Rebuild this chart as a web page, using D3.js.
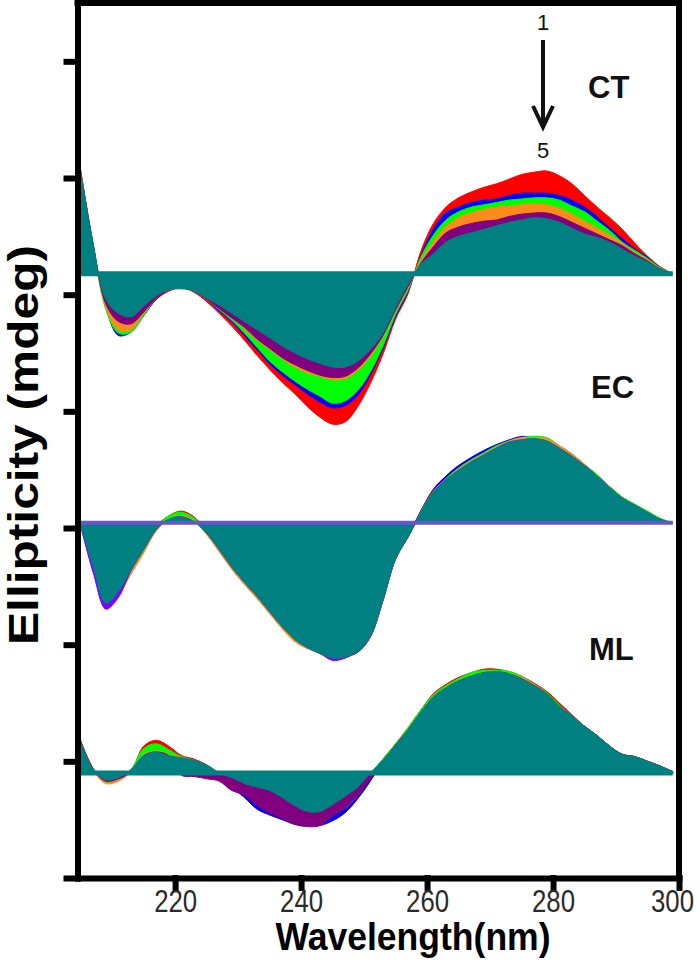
<!DOCTYPE html>
<html>
<head>
<meta charset="utf-8">
<script src="https://cdn.jsdelivr.net/npm/d3@7"></script>
<style>
  body { margin: 0; background: #fff; }
  svg { display: block; font-family: "Liberation Sans", Arial, sans-serif; }
</style>
</head>
<body>
<svg width="700" height="962"></svg>
<script>
// wavelength grid (nm)
var wavelength = [205,207,209,211,213,215,217,219,221,223,225,227,229,231,233,235,237,239,241,243,245,247,249,251,
                  253,255,257,259,261,263,265,267,269,271,273,275,277,279,281,283,285,287,289,291,293,295,297,299];

// CT spectra 1..5 (red, blue, green, orange, purple) and reference (teal), mdeg
var ctRed    = [8.9,2.3,-2.8,-5.0,-4.8,-3.6,-2.2,-1.5,-1.2,-1.6,-2.4,-3.4,-4.5,-5.7,-7.0,-8.2,-9.3,-10.3,-11.4,-12.3,-12.9,-12.7,-11.4,-9.4,
                -6.9,-3.9,-1.7,1.9,4.3,5.7,6.5,7.0,7.4,7.7,8.1,8.5,8.7,8.8,8.4,7.7,6.7,5.7,4.8,3.8,2.6,1.5,0.6,0];
var ctBlue   = [8.8,2.4,-2.9,-5.3,-5.0,-3.6,-2.2,-1.4,-1.0,-1.5,-2.2,-3.2,-4.1,-5.3,-6.5,-7.7,-8.7,-9.5,-10.3,-11.0,-11.5,-11.3,-10.4,-8.7,
                -6.4,-3.7,-1.5,1.5,3.8,5.2,5.7,6.1,6.3,6.4,6.7,6.9,6.9,6.9,6.7,6.3,5.7,4.9,3.9,3.0,2.1,1.4,0.5,0];
var ctGreen  = [8.8,2.4,-3.1,-5.1,-5.0,-3.6,-2.1,-1.4,-1.1,-1.5,-2.2,-3.1,-4.0,-5.1,-6.3,-7.5,-8.4,-9.2,-9.9,-10.5,-11.1,-10.9,-10.0,-8.4,
                -6.2,-3.5,-1.4,1.4,3.3,4.6,5.3,5.7,5.9,6.1,6.3,6.4,6.5,6.5,6.3,5.8,5.3,4.5,3.7,2.7,2.0,1.3,0.5,0];
var ctOrange = [8.8,2.4,-2.9,-4.8,-4.8,-3.4,-2.1,-1.4,-1.2,-1.5,-2.2,-3.0,-3.8,-4.7,-5.7,-6.5,-7.3,-8.0,-8.5,-8.8,-9.1,-9.0,-8.3,-7.1,
                -5.4,-3.2,-1.2,1.1,2.7,4.0,4.8,5.2,5.5,5.7,5.8,5.9,6.0,5.9,5.6,5.1,4.5,3.9,3.3,2.6,1.8,1.2,0.4,0];
var ctPurple = [8.7,2.5,-2.6,-4.1,-4.3,-3.3,-2.1,-1.4,-1.1,-1.5,-2.2,-3.0,-3.8,-4.6,-5.6,-6.4,-7.2,-7.8,-8.3,-8.7,-8.9,-8.8,-8.1,-6.9,
                -5.3,-3.1,-1.1,0.9,2.3,3.5,4.0,4.3,4.5,4.6,4.9,5.1,5.2,5.2,4.9,4.4,3.9,3.4,2.9,2.4,1.7,1.1,0.4,0];
var ctTeal   = [8.7,2.5,-2.2,-3.4,-3.7,-2.8,-1.9,-1.4,-1.3,-1.5,-2.1,-2.7,-3.4,-4.1,-4.8,-5.5,-6.2,-6.8,-7.3,-7.7,-8.0,-8.0,-7.5,-6.5,
                -5.1,-2.9,-0.9,0.8,1.7,2.7,3.2,3.5,3.8,4.1,4.4,4.6,4.8,4.7,4.4,3.9,3.4,3.1,2.7,2.1,1.5,1.0,0.4,0];

// EC
var ecRed    = [-0.2,-3.9,-7.0,-6.0,-4.0,-2.2,-0.3,0.6,1.0,0.5,-0.7,-2.3,-3.8,-5.1,-6.3,-7.6,-8.9,-10.0,-10.7,-11.2,-11.6,-11.5,-11.0,-9.7,
                -6.6,-3.1,-1.2,1.0,2.9,4.0,4.9,5.5,6.1,6.6,7.0,7.3,7.4,7.2,6.6,5.9,5.0,4.1,3.1,2.2,1.5,0.9,0.3,0];
var ecBlue   = [-0.2,-3.9,-7.0,-6.0,-4.1,-2.3,-0.5,0.5,0.8,0.3,-0.8,-2.3,-3.8,-5.2,-6.4,-7.7,-8.9,-10.0,-10.7,-11.2,-11.6,-11.5,-11.1,-9.8,
                -6.7,-3.1,-1.1,1.0,2.8,4.0,4.9,5.6,6.2,6.7,7.1,7.4,7.3,7.1,6.5,5.8,4.9,4.0,3.0,2.1,1.5,0.9,0.3,0];
var ecGreen  = [-0.2,-3.8,-6.9,-6.0,-4.0,-2.2,-0.4,0.6,0.9,0.4,-0.8,-2.3,-3.8,-5.1,-6.3,-7.6,-8.9,-10.0,-10.7,-11.2,-11.6,-11.5,-11.0,-9.7,
                -6.6,-3.1,-1.2,0.9,2.7,3.8,4.7,5.4,6.0,6.6,7.0,7.3,7.4,7.3,6.6,5.8,5.0,4.1,3.1,2.2,1.6,1.0,0.4,0];
var ecOrange = [-0.2,-3.8,-6.9,-6.1,-4.4,-2.6,-0.7,0.3,0.6,0.2,-1.0,-2.5,-4.0,-5.3,-6.5,-7.8,-9.1,-10.2,-10.8,-11.2,-11.6,-11.5,-11.0,-9.7,
                -6.6,-3.1,-1.2,0.8,2.6,3.7,4.6,5.3,5.9,6.5,7.0,7.3,7.3,7.2,6.6,5.9,5.0,4.0,3.0,2.1,1.5,0.9,0.3,0];
var ecPurple = [-0.3,-4.3,-7.4,-6.4,-4.1,-2.3,-0.6,0.3,0.5,0.1,-0.9,-2.3,-3.8,-5.1,-6.3,-7.6,-8.9,-10.0,-10.7,-11.2,-11.8,-11.6,-11.0,-9.7,
                -6.6,-3.1,-1.2,0.8,2.6,3.7,4.5,5.2,5.8,6.4,6.9,7.1,7.2,7.0,6.4,5.7,4.9,4.0,3.0,2.1,1.5,0.9,0.3,0];
var ecTeal   = [-0.2,-3.8,-6.9,-5.9,-4.0,-2.3,-0.6,0.3,0.5,0.1,-0.9,-2.3,-3.8,-5.1,-6.3,-7.6,-8.9,-10.0,-10.7,-11.2,-11.6,-11.5,-11.0,-9.7,
                -6.6,-3.1,-1.2,0.8,2.6,3.7,4.5,5.2,5.8,6.4,6.9,7.1,7.2,7.0,6.4,5.7,4.9,4.0,3.0,2.1,1.5,0.9,0.3,0];

// ML
var mlRed    = [2.8,0.4,-0.8,-0.5,0.2,2.3,2.8,2.3,1.5,1.2,0.7,0,-0.5,-1.0,-1.4,-1.8,-2.4,-3.1,-3.6,-3.6,-3.0,-2.3,-1.4,-0.1,
                1.2,2.5,3.9,5.4,6.8,7.6,8.2,8.6,8.9,8.9,8.7,8.3,7.7,7.0,6.0,5.0,4.0,3.2,2.3,1.6,1.4,1.0,0.6,0.1];
var mlBlue   = [2.7,0.3,-0.7,-0.5,0.2,1.8,2.1,1.7,1.3,1.1,0.6,-0.1,-1.2,-2.1,-3.1,-3.6,-4.0,-4.4,-4.5,-4.5,-4.1,-3.4,-2.2,-0.7,
                1.0,2.4,3.7,5.2,6.5,7.4,8.0,8.5,8.7,8.8,8.6,8.1,7.5,6.8,5.7,4.9,4.0,3.2,2.3,1.6,1.4,1.0,0.6,0.1];
var mlGreen  = [2.7,0.3,-0.6,-0.4,0.3,2.1,2.5,2.0,1.4,1.1,0.6,0,-0.6,-1.2,-1.7,-2.2,-2.8,-3.4,-3.8,-3.8,-3.2,-2.5,-1.5,-0.1,
                1.2,2.5,3.9,5.4,6.7,7.5,8.1,8.6,8.8,8.8,8.7,8.3,7.6,6.9,5.8,4.9,4.0,3.2,2.3,1.6,1.4,1.0,0.6,0.1];
var mlOrange = [2.6,0.2,-0.9,-0.7,0.1,1.6,1.9,1.6,1.3,1.1,0.6,-0.1,-0.7,-1.3,-2.0,-2.6,-3.1,-3.6,-4.0,-4.0,-3.6,-3.0,-1.9,-0.4,
                1.0,2.4,3.7,5.2,6.5,7.3,7.9,8.3,8.5,8.6,8.5,8.2,7.6,6.8,5.7,4.9,4.0,3.2,2.3,1.6,1.4,1.0,0.6,0.1];
var mlPurple = [2.7,0.3,-0.7,-0.5,0.1,1.5,1.8,1.5,-0.2,-0.3,-0.5,-0.7,-1.5,-1.9,-2.8,-3.4,-3.9,-4.4,-4.6,-4.5,-3.7,-3.0,-1.9,-0.5,
                0.9,2.4,3.7,5.2,6.5,7.3,7.9,8.3,8.6,8.7,8.5,8.1,7.5,6.8,5.7,4.9,4.0,3.2,2.3,1.6,1.4,1.0,0.6,0.1];
var mlTeal   = [2.7,0.3,-0.6,-0.4,0.3,1.5,1.8,1.5,1.3,1.1,0.7,0,-0.4,-0.9,-1.2,-1.5,-2.1,-2.8,-3.3,-3.3,-2.7,-2.0,-1.2,0,
                1.1,2.4,3.7,5.2,6.5,7.3,7.9,8.3,8.6,8.7,8.5,8.1,7.5,6.8,5.7,4.9,4.0,3.2,2.3,1.6,1.4,1.0,0.6,0.1];

var panelNames   = ["CT", "EC", "ML"];
var panelOffsets = [41.8, 20.45, -1.0];   // vertical shift of each stack, mdeg
var xTicks = [220, 240, 260, 280, 300];
var yTicks = [-10, 0, 10, 20, 30, 40, 50, 60];

var panels = [
  { name: "CT", offset: panelOffsets[0], zero: "#008080",
    series: [ctRed, ctBlue, ctGreen, ctOrange, ctPurple, ctTeal],
    colors: ["#ff0000", "#0000ff", "#00ff00", "#ff8c1a", "#800080", "#008080"] },
  { name: "EC", offset: panelOffsets[1], zero: "#6655cc",
    series: [ecRed, ecBlue, ecGreen, ecOrange, ecPurple, ecTeal],
    colors: ["#ff0000", "#0000ff", "#00ff00", "#ff8c1a", "#8000ff", "#008080"] },
  { name: "ML", offset: panelOffsets[2], zero: "#008080",
    series: [mlRed, mlBlue, mlGreen, mlOrange, mlPurple, mlTeal],
    colors: ["#ff0000", "#0000ff", "#00ff00", "#ff8c1a", "#800080", "#008080"] }
];

var svg = d3.select("svg"),
    plotLeft = 77.5, plotRight = 679, plotTop = 3, plotBottom = 878;

var x = d3.scaleLinear().domain([204.5, 300]).range([plotLeft, plotRight]);
var y = d3.scaleLinear().domain([-10, 65]).range([plotBottom, plotTop]);

var g = svg.append("g");

panels.forEach(function (p) {
  p.series.forEach(function (vals, k) {
    var area = d3.area()
        .curve(d3.curveCatmullRom.alpha(0.5))
        .x(function (d, i) { return x(wavelength[i]); })
        .y0(y(p.offset))
        .y1(function (d) { return y(p.offset + d); });
    g.append("path")
        .datum(vals)
        .attr("d", area)
        .attr("fill", p.colors[k])
        .attr("stroke", p.colors[k])
        .attr("stroke-width", 1);
  });
  g.append("line")
      .attr("x1", x(wavelength[0]))
      .attr("x2", x(wavelength[wavelength.length - 1]))
      .attr("y1", y(p.offset))
      .attr("y2", y(p.offset))
      .attr("stroke", p.zero)
      .attr("stroke-width", p.name === "EC" ? 4 : 5);
});

// axes + frame
var xAxis = svg.append("g")
    .attr("transform", "translate(0," + plotBottom + ")")
    .call(d3.axisBottom(x).tickValues(xTicks).tickSize(10).tickSizeOuter(0));
xAxis.selectAll("text")
    .attr("x", function (d) { return d === 300 ? -7 : 0; })
    .attr("y", 34)
    .attr("dy", 0)
    .attr("fill", "#2a2a2a")
    .style("font-size", "31px")
    .attr("textLength", 43)
    .attr("lengthAdjust", "spacingAndGlyphs");

var yAxis = svg.append("g")
    .attr("transform", "translate(" + plotLeft + ",0)")
    .call(d3.axisLeft(y).tickValues(yTicks).tickSize(11).tickSizeOuter(0).tickFormat(""));

svg.selectAll(".domain, .tick line")
    .attr("stroke", "#000")
    .attr("stroke-width", 6)
    .attr("stroke-linecap", "square");

svg.append("path")
    .attr("d", "M" + plotLeft + "," + plotTop + "H" + plotRight + "V" + plotBottom)
    .attr("fill", "none")
    .attr("stroke", "#000")
    .attr("stroke-width", 6)
    .attr("stroke-linecap", "square");

// titles
svg.append("text")
    .attr("x", 413)
    .attr("y", 950)
    .attr("text-anchor", "middle")
    .style("font-weight", "bold")
    .style("font-size", "39px")
    .attr("textLength", 275)
    .attr("lengthAdjust", "spacingAndGlyphs")
    .text("Wavelength(nm)");

svg.append("text")
    .attr("transform", "translate(38,445) rotate(-90)")
    .attr("text-anchor", "middle")
    .style("font-weight", "bold")
    .style("font-size", "42px")
    .attr("textLength", 400)
    .attr("lengthAdjust", "spacingAndGlyphs")
    .text("Ellipticity (mdeg)");

// panel labels
var labelPos = [[588, 98], [591, 398], [589, 660]];
panelNames.forEach(function (n, i) {
  svg.append("text")
      .attr("x", labelPos[i][0])
      .attr("y", labelPos[i][1])
      .style("font-weight", "bold")
      .style("font-size", "31px")
      .attr("fill", "#111")
      .text(n);
});

// 1 -> 5 arrow
svg.append("text").attr("x", 543).attr("y", 30).attr("text-anchor", "middle")
    .style("font-size", "22px").attr("fill", "#111").text("1");
svg.append("text").attr("x", 543).attr("y", 158).attr("text-anchor", "middle")
    .style("font-size", "22px").attr("fill", "#111").text("5");
svg.append("line").attr("x1", 543).attr("x2", 543).attr("y1", 40).attr("y2", 126)
    .attr("stroke", "#111").attr("stroke-width", 4);
svg.append("path").attr("d", "M533,106L543,127L553,106")
    .attr("fill", "none").attr("stroke", "#111").attr("stroke-width", 4);
</script>
</body>
</html>
